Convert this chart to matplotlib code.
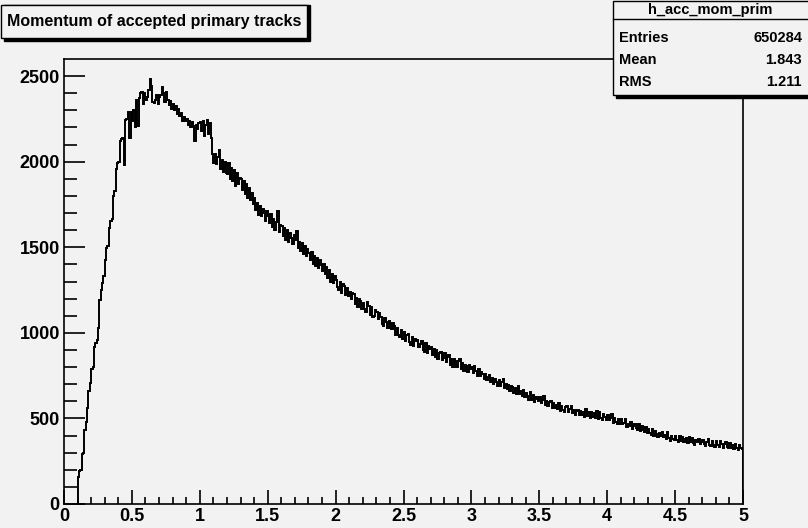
###############################################################################
#0. Import Modules
###############################################################################

import matplotlib
matplotlib.use('Agg')
import matplotlib.pyplot as plt
import matplotlib.patches as patches
import numpy as np

###############################################################################
#1. Data (bin width 0.01 from 0.10)
###############################################################################

histName = 'h_acc_mom_prim'
histTitle = 'Momentum of accepted primary tracks'
statLabels = ['Entries', 'Mean', 'RMS']
statValues = ['650284', '1.843', '1.211']

firstBin = 0.10
binWidth = 0.01

counts_0 = [160, 190, 200, 290, 300, 435, 480, 560, 660, 705,
            790, 800, 920, 940, 960, 1030, 1190, 1250, 1290, 1330,
            1425, 1495, 1510, 1610, 1655, 1665, 1800, 1830, 1960, 1990,
            2000, 2120, 2130, 2140, 1980, 2245, 2250, 2290, 2140, 2290,
            2240, 2300, 2200, 2360, 2210, 2370, 2400, 2410, 2340, 2400,
            2360, 2380, 2420, 2485, 2440, 2350, 2345, 2360, 2390, 2340,
            2380, 2390, 2435, 2400, 2350, 2410, 2360, 2330, 2355, 2310,
            2340, 2300, 2325, 2280, 2310, 2265, 2285, 2240, 2260, 2235,
            2250, 2215, 2240, 2205, 2230, 2210, 2120, 2215, 2190, 2225]
counts_1 = [2230, 2180, 2240, 2150, 2215, 2245, 2160, 2225, 2140, 2045,
            1990, 2045, 1985, 2030, 2070, 1960, 2010, 1940, 2000, 1935,
            1930, 1995, 1900, 1965, 1890, 1950, 1860, 1935, 1870, 1905,
            1900, 1835, 1885, 1810, 1870, 1790, 1845, 1775, 1820, 1750,
            1790, 1715, 1760, 1690, 1740, 1680, 1725, 1700, 1655, 1710,
            1680, 1640, 1695, 1620, 1665, 1600, 1650, 1710, 1590, 1630,
            1625, 1565, 1610, 1545, 1600, 1530, 1585, 1555, 1520, 1570,
            1540, 1595, 1495, 1530, 1480, 1525, 1460, 1510, 1450, 1490,
            1465, 1425, 1470, 1400, 1450, 1390, 1435, 1380, 1425, 1395,
            1360, 1405, 1345, 1385, 1320, 1365, 1295, 1345, 1290, 1330]
counts_2 = [1310, 1265, 1250, 1300, 1235, 1285, 1275, 1220, 1260, 1215,
            1240, 1195, 1230, 1225, 1170, 1205, 1150, 1195, 1185, 1140,
            1175, 1140, 1120, 1180, 1155, 1105, 1150, 1095, 1100, 1135,
            1120, 1080, 1115, 1095, 1050, 1040, 1085, 1065, 1030, 1070,
            1060, 1020, 1055, 1040, 990, 1030, 985, 975, 1015, 965,
            1005, 955, 990, 995, 945, 930, 975, 925, 965, 950,
            960, 915, 935, 955, 900, 890, 940, 880, 925, 905,
            915, 870, 905, 860, 900, 845, 885, 890, 840, 855,
            880, 830, 860, 870, 815, 850, 800, 845, 835, 800,
            835, 850, 790, 825, 780, 815, 805, 770, 810, 790]
counts_3 = [800, 765, 805, 775, 750, 790, 745, 770, 760, 730,
            760, 725, 740, 755, 710, 735, 700, 730, 715, 690,
            725, 690, 715, 730, 680, 700, 670, 695, 660, 690,
            685, 650, 675, 645, 690, 640, 660, 630, 665, 625,
            650, 630, 610, 655, 605, 635, 595, 625, 615, 600,
            625, 590, 605, 630, 580, 600, 570, 595, 600, 560,
            590, 560, 580, 555, 590, 545, 570, 550, 540, 565,
            570, 540, 555, 575, 530, 550, 520, 545, 550, 520,
            545, 520, 540, 510, 555, 515, 535, 500, 540, 510,
            530, 505, 545, 495, 535, 500, 490, 525, 510, 490]
counts_4 = [520, 490, 500, 525, 475, 500, 480, 470, 495, 465,
            495, 465, 475, 495, 450, 470, 455, 480, 440, 455,
            470, 445, 435, 470, 425, 455, 435, 420, 450, 415,
            440, 415, 405, 440, 400, 425, 410, 390, 415, 395,
            420, 390, 405, 380, 420, 385, 370, 400, 380, 375,
            400, 375, 365, 400, 370, 390, 360, 380, 385, 355,
            390, 360, 385, 355, 345, 375, 360, 380, 350, 365,
            375, 350, 340, 365, 380, 345, 340, 370, 345, 335,
            370, 345, 335, 370, 350, 330, 350, 365, 335, 330,
            355, 330, 345, 320, 350, 325, 315, 345, 325, 320]

counts = np.array(counts_0 + counts_1 + counts_2 + counts_3 + counts_4, dtype=float)
edges = firstBin + binWidth*np.arange(len(counts) + 1)

###############################################################################
#2. Fonts and style
###############################################################################

plt.rcParams['font.family'] = ['Liberation Sans', 'DejaVu Sans']

bgColor = '#f2f2f2'
W, H = 808, 528

def fx(px): #pixel x -> figure fraction
    return px/W

def fy(py): #pixel y (from top) -> figure fraction
    return 1 - py/H

###############################################################################
#3. Plot
###############################################################################

fig = plt.figure(figsize=(W/100, H/100), dpi=100, facecolor=bgColor)
ax = fig.add_axes([fx(64), fy(504), fx(743) - fx(64), fy(59) - fy(504)])
ax.set_facecolor(bgColor)

ax.stairs(counts, edges, baseline=0, color='black', linewidth=1.4)

ax.set_xlim(0, 5)
ax.set_ylim(0, 2600)
ax.set_xticks(np.arange(0, 5.01, 0.5))
ax.set_xticks(np.arange(0, 5.01, 0.1), minor=True)
ax.set_yticks(np.arange(0, 2501, 500))
ax.set_yticks(np.arange(0, 2600, 100), minor=True)
ax.set_xticklabels(['0', '0.5', '1', '1.5', '2', '2.5', '3', '3.5', '4', '4.5', '5'])
ax.tick_params(axis='both', which='both', direction='in', top=False, right=False,
               width=1.2, labelsize=13, pad=3)
ax.tick_params(axis='y', which='major', length=15)
ax.tick_params(axis='y', which='minor', length=9)
ax.tick_params(axis='x', which='major', length=10)
ax.tick_params(axis='x', which='minor', length=5)
for lab in ax.get_xticklabels() + ax.get_yticklabels():
    lab.set_fontweight('bold')
for sp in ax.spines.values():
    sp.set_linewidth(1.2)

#Title box with shadow
shadow = patches.Rectangle((fx(4), fy(41)), fx(306), fy(5) - fy(41), transform=fig.transFigure,
                           facecolor='black', edgecolor='black', zorder=1)
titleBox = patches.Rectangle((fx(1), fy(38)), fx(306), fy(5) - fy(38), transform=fig.transFigure,
                             facecolor=bgColor, edgecolor='black', linewidth=1.0, zorder=2)
fig.patches.extend([shadow, titleBox])
fig.text(fx(154), fy(21.5), histTitle, ha='center', va='center', fontsize=11.5,
         fontweight='bold', zorder=3)

#Stats box
statShadow = patches.Rectangle((fx(616), fy(98)), fx(200), fy(3) - fy(98), transform=fig.transFigure,
                               facecolor='black', edgecolor='black', zorder=1)
statBox = patches.Rectangle((fx(613), fy(95)), fx(200), fy(1) - fy(95), transform=fig.transFigure,
                            facecolor=bgColor, edgecolor='black', linewidth=1.0, zorder=2)
fig.patches.extend([statShadow, statBox])
fig.add_artist(plt.Line2D([fx(613), fx(808)], [fy(19), fy(19)], transform=fig.transFigure,
                          color='black', linewidth=1.0, zorder=3))
fig.text(fx(710), fy(10), histName, ha='center', va='center', fontsize=10.5,
         fontweight='bold', zorder=3)
for i in range(len(statLabels)):
    yy = fy(38 + 22*i)
    fig.text(fx(619), yy, statLabels[i], ha='left', va='center', fontsize=10.5,
             fontweight='bold', zorder=3)
    fig.text(fx(802), yy, statValues[i], ha='right', va='center', fontsize=10.5,
             fontweight='bold', zorder=3)

###############################################################################
#4. Save figure
###############################################################################

fig.savefig('out.png', dpi=100, facecolor=bgColor)
